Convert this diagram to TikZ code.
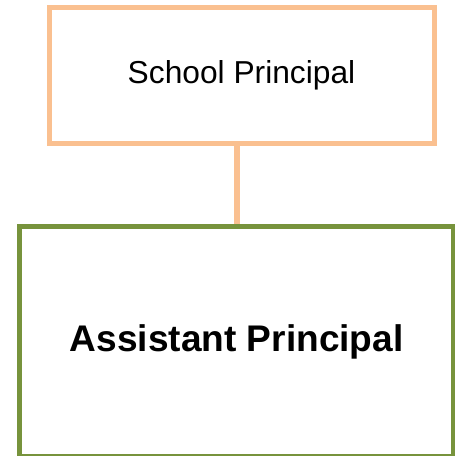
\documentclass[tikz,border=0pt]{standalone}
\usepackage{fontspec}
\setmainfont{Liberation Sans}
\usetikzlibrary{positioning}
\definecolor{peach}{HTML}{FAC090}
\definecolor{olive}{HTML}{77933C}
\tikzset{x=0.75pt,y=0.75pt}
\tikzset{every node/.style={inner sep=0pt,line width=3.75pt}}

\begin{document}
\begin{tikzpicture}
\useasboundingbox (0,0) rectangle (454,456);
\node[draw=peach,name=sp,minimum width=385*0.75pt,minimum height=136.5*0.75pt,font=\fontsize{23.8}{28}\selectfont] at (241.5,380.25) {School Principal};
\node[draw=olive,name=ap,minimum width=434*0.75pt,minimum height=230*0.75pt,font=\fontsize{27.8}{33}\selectfont\bfseries] at (236.7,114.5) {Assistant Principal};
\draw[peach,line width=4.2pt] (ap.north |- sp.south) -- (ap.north);
\end{tikzpicture}
\end{document}
